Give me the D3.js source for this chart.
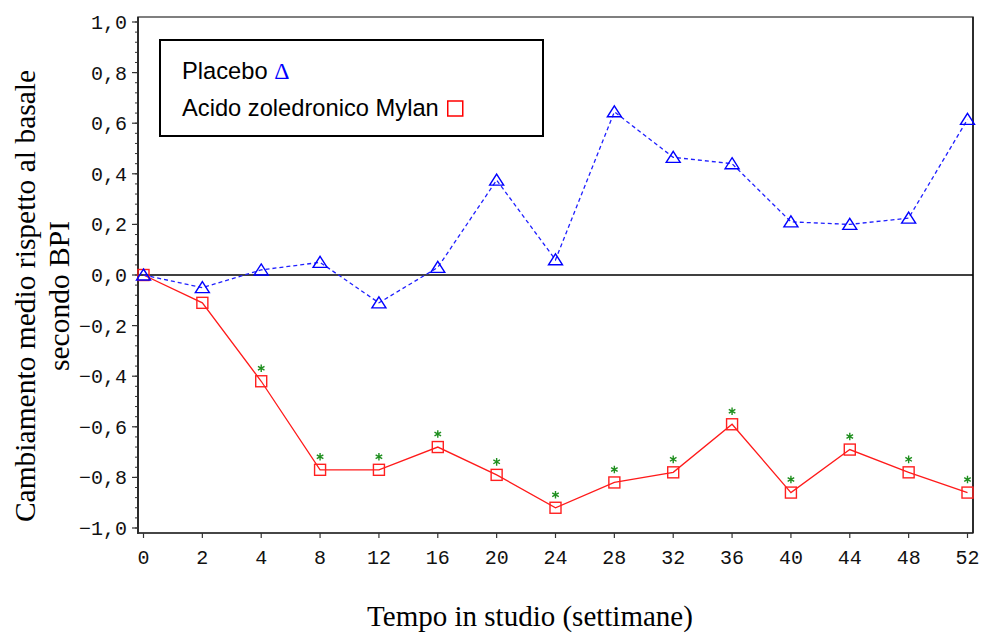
<!DOCTYPE html>
<html>
<head>
<meta charset="utf-8">
<script src="https://cdn.jsdelivr.net/npm/d3@7"></script>
<style>
  body { margin: 0; background: #fff; }
  .tick-label { font-family: "Liberation Mono", monospace; font-size: 20px; fill: #111; }
  .axis-title { font-family: "Liberation Serif", "Times New Roman", serif; font-size: 29px; fill: #000; }
  .legend-text { font-family: "Liberation Sans", Arial, sans-serif; font-size: 23.7px; fill: #000; }
</style>
</head>
<body>
<svg id="chart" width="982" height="634"></svg>
<script>
  // weeks in study (categorical axis)
  const weeks = ['0', '2', '4', '8', '12', '16', '20', '24', '28', '32', '36', '40', '44', '48', '52'];
  // mean change from baseline (BPI)
  const placebo = [0.0, -0.05, 0.02, 0.05, -0.11, 0.03, 0.375, 0.06, 0.645, 0.465, 0.44, 0.21, 0.20, 0.225, 0.615];
  const zoledronico = [0.0, -0.11, -0.42, -0.77, -0.77, -0.68, -0.79, -0.92, -0.82, -0.78, -0.59, -0.86, -0.69, -0.78, -0.86];
  // significance markers (*) for the active arm
  const significant = [false, false, true, true, true, true, true, true, true, true, true, true, true, true, true];
  const yTicks = [-1.0, -0.8, -0.6, -0.4, -0.2, 0.0, 0.2, 0.4, 0.6, 0.8, 1.0];
  const yMinorTicks = d3.range(-50, 51, 2).map(d => d / 50);

  const frame = {left: 138, right: 973, top: 17, bottom: 533};

  const svg = d3.select('#chart');

  const x = d3.scalePoint().domain(weeks).range([143.5, 967.5]);
  const y = d3.scaleLinear().domain([-1, 1]).range([528, 22]);

  const fmt = v => d3.format('.1f')(v).replace('.', ',').replace('-', '\u2212');

  // frame
  svg.append('rect')
    .attr('x', frame.left).attr('y', frame.top)
    .attr('width', frame.right - frame.left).attr('height', frame.bottom - frame.top)
    .attr('fill', 'none').attr('stroke', '#555').attr('stroke-width', 1.5);
  svg.append('line')
    .attr('x1', frame.left).attr('x2', frame.left).attr('y1', frame.top).attr('y2', frame.bottom + 1)
    .attr('stroke', '#111').attr('stroke-width', 1.5);
  svg.append('line')
    .attr('x1', frame.left).attr('x2', frame.right).attr('y1', frame.bottom).attr('y2', frame.bottom)
    .attr('stroke', '#333').attr('stroke-width', 1.5);
  svg.append('line')
    .attr('x1', frame.right).attr('x2', frame.right).attr('y1', frame.top).attr('y2', frame.bottom)
    .attr('stroke', '#111').attr('stroke-width', 1.5);

  // y axis ticks
  svg.append('g').selectAll('line').data(yMinorTicks).join('line')
    .attr('x1', frame.left - 3).attr('x2', frame.left)
    .attr('y1', d => y(d)).attr('y2', d => y(d))
    .attr('stroke', '#333').attr('stroke-width', 1);
  svg.append('g').selectAll('line').data(yTicks).join('line')
    .attr('x1', frame.left - 6).attr('x2', frame.left)
    .attr('y1', d => y(d)).attr('y2', d => y(d))
    .attr('stroke', '#333').attr('stroke-width', 1.2);
  svg.append('g').selectAll('text').data(yTicks).join('text')
    .attr('class', 'tick-label')
    .attr('x', 127).attr('y', d => y(d) + 7)
    .attr('text-anchor', 'end')
    .text(fmt);

  // x axis ticks
  svg.append('g').selectAll('line').data(weeks).join('line')
    .attr('x1', d => x(d)).attr('x2', d => x(d))
    .attr('y1', frame.bottom).attr('y2', frame.bottom + 5)
    .attr('stroke', '#333').attr('stroke-width', 1.2);
  svg.append('g').selectAll('text').data(weeks).join('text')
    .attr('class', 'tick-label')
    .attr('x', d => x(d)).attr('y', 564)
    .attr('text-anchor', 'middle')
    .text(d => d);

  // zero reference
  svg.append('line')
    .attr('x1', frame.left).attr('x2', frame.right)
    .attr('y1', y(0)).attr('y2', y(0))
    .attr('stroke', '#000').attr('stroke-width', 1.3);

  // axis titles
  svg.append('text')
    .attr('class', 'axis-title')
    .attr('x', 530).attr('y', 626)
    .attr('text-anchor', 'middle')
    .text('Tempo in studio (settimane)');
  const yTitle = svg.append('text')
    .attr('class', 'axis-title')
    .style('font-size', '29.5px')
    .attr('transform', 'translate(35,296) rotate(-90)')
    .attr('text-anchor', 'middle');
  yTitle.append('tspan').attr('x', 0).attr('y', 0).text('Cambiamento medio rispetto al basale');
  yTitle.append('tspan').attr('x', 0).attr('y', 34).text('secondo BPI');

  const line = d3.line().x((d, i) => x(weeks[i])).y(d => y(d));

  // active arm: red squares, solid line
  svg.append('path').datum(zoledronico)
    .attr('fill', 'none').attr('stroke', '#ff1a1a').attr('stroke-width', 1.3)
    .attr('d', line);
  svg.append('g').selectAll('rect').data(zoledronico).join('rect')
    .attr('x', (d, i) => x(weeks[i]) - 5.5).attr('y', d => y(d) - 5.5)
    .attr('width', 11).attr('height', 11)
    .attr('fill', 'none').attr('stroke', '#ff2020').attr('stroke-width', 1.4);
  svg.append('g').selectAll('path')
    .data(zoledronico.map((d, i) => ({v: d, w: weeks[i], s: significant[i]})).filter(d => d.s))
    .join('path')
    .attr('transform', d => `translate(${x(d.w)},${y(d.v) - 13})`)
    .attr('d', d3.symbol(d3.symbolAsterisk, 40))
    .attr('fill', 'none').attr('stroke', '#1f8f1f').attr('stroke-width', 1.4);

  // placebo: blue triangles, dashed line
  svg.append('path').datum(placebo)
    .attr('fill', 'none').attr('stroke', '#2020ff').attr('stroke-width', 1.3)
    .attr('stroke-dasharray', '4,3')
    .attr('d', line);
  svg.append('g').selectAll('path').data(placebo).join('path')
    .attr('transform', (d, i) => `translate(${x(weeks[i])},${y(d)})`)
    .attr('d', 'M0,-6L7,5L-7,5Z')
    .attr('fill', 'none').attr('stroke', '#0000ff').attr('stroke-width', 1.4);

  // legend
  svg.append('rect')
    .attr('x', 160).attr('y', 40).attr('width', 383).attr('height', 96)
    .attr('fill', '#fff').attr('stroke', '#000').attr('stroke-width', 2);
  const l1 = svg.append('text').attr('class', 'legend-text').attr('x', 182).attr('y', 79);
  l1.append('tspan').text('Placebo ');
  l1.append('tspan').attr('fill', '#0000ff')
    .style('font-family', '"Liberation Serif", serif').text('\u0394');
  const l2 = svg.append('text').attr('class', 'legend-text').attr('x', 182).attr('y', 116);
  l2.text('Acido zoledronico Mylan');
  const w2 = l2.node().getComputedTextLength();
  svg.append('rect')
    .attr('x', 182 + w2 + 9).attr('y', 101)
    .attr('width', 15).attr('height', 15)
    .attr('fill', 'none').attr('stroke', '#ff0000').attr('stroke-width', 1.5);
</script>
</body>
</html>
